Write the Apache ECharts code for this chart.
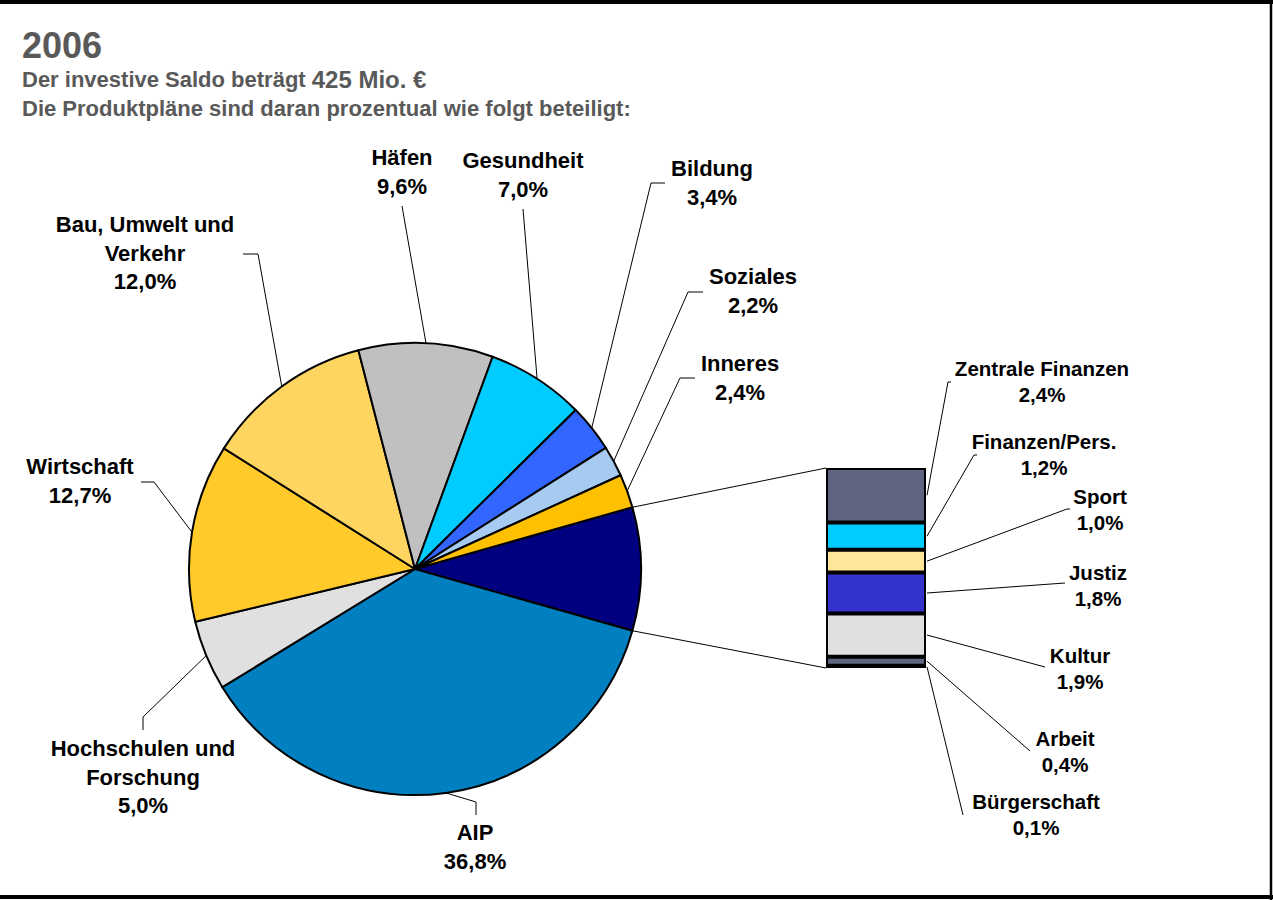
<!DOCTYPE html>
<html>
<head>
<meta charset="utf-8">
<script src="https://cdn.jsdelivr.net/npm/echarts@6/dist/echarts.min.js"></script>
<style>html,body{margin:0;padding:0;background:#fff}#c{width:1273px;height:900px}</style>
</head>
<body>
<div id="c"></div>
<script>
// ---------- DATA ----------
const titleText = '2006';
const subtitleLine1 = 'Der investive Saldo beträgt ';
const subtitleAmount = '425 Mio. €';
const subtitleLine2 = 'Die Produktpläne sind daran prozentual wie folgt beteiligt:';

// pie slices (clockwise after the "rest" slice, which is exploded into the bar)
const pieNames = ['AIP', 'Hochschulen und\nForschung', 'Wirtschaft', 'Bau, Umwelt und\nVerkehr', 'Häfen', 'Gesundheit', 'Bildung', 'Soziales', 'Inneres'];
const pieValues = [36.8, 5.0, 12.7, 12.0, 9.6, 7.0, 3.4, 2.2, 2.4];
const restName = 'Übrige';

// bar of pie (bottom to top)
const barNames = ['Bürgerschaft', 'Arbeit', 'Kultur', 'Justiz', 'Sport', 'Finanzen/Pers.', 'Zentrale Finanzen'];
const barValues = [0.1, 0.4, 1.9, 1.8, 1.0, 1.2, 2.4];

// ---------- STYLE / LAYOUT ----------
const restColor = '#000080';
const pieColors = ['#0080C0', '#E0E0E0', '#FFCA2A', '#FFD561', '#C0C0C0', '#00CCFF', '#3366FF', '#A6CAF0', '#FFC000'];
const barColors = ['#FFC000', '#5F6480', '#E0E0E0', '#3333CC', '#FFE699', '#00CCFF', '#5F6480'];

const FONT = '"Liberation Sans", Arial, Helvetica, sans-serif';
const PIE_C = [415, 569];
const PIE_R = 226;
const GRID = { left: 826, top: 468, width: 100, height: 200 };

// label block centres and leader line bends (label side), same order as pieNames
const pieLabelPos = [
  { x: 475, y: 847, bend: [[476, 802], [476, 815]] },
  { x: 143, y: 777, bend: [[143, 717], [143, 730]] },
  { x: 80, y: 481, bend: [[154, 482], [141, 482]] },
  { x: 145, y: 253, bend: [[258, 254], [243, 254]] },
  { x: 402, y: 172, bend: [[402, 206], [402, 206]] },
  { x: 523, y: 175, bend: [[523, 209], [523, 209]] },
  { x: 712, y: 183, bend: [[651, 183], [665, 183]] },
  { x: 753, y: 291, bend: [[688, 292], [703, 292]] },
  { x: 740, y: 378, bend: [[680, 378], [695, 378]] }
];
// same order as barNames
const barLabelPos = [
  { x: 1036, y: 814, bend: [[963, 815], [963, 815]] },
  { x: 1065, y: 751, bend: [[1030, 751], [1030, 751]] },
  { x: 1080, y: 668, bend: [[1045, 667], [1045, 667]] },
  { x: 1098, y: 585, bend: [[1065, 583], [1065, 583]] },
  { x: 1100, y: 509, bend: [[1067, 509], [1070, 509]] },
  { x: 1044, y: 454, bend: [[974, 455], [977, 455]] },
  { x: 1042, y: 381, bend: [[948, 382], [951, 382]] }
];

function pct(v) { return v.toFixed(1).replace('.', ',') + '%'; }

// ---------- GEOMETRY FROM DATA ----------
const restValue = barValues.reduce((a, b) => a + b, 0);
const allPie = [restValue].concat(pieValues);
const pieTotal = allPie.reduce((a, b) => a + b, 0);
const startAngle = restValue / pieTotal * 360 / 2;
function angleAt(cum) { return startAngle - cum / pieTotal * 360; }
function edgePt(deg) {
  const r = deg * Math.PI / 180;
  return [PIE_C[0] + PIE_R * Math.cos(r), PIE_C[1] - PIE_R * Math.sin(r)];
}
function midEdge(i) { // i index into allPie
  let cum = 0;
  for (let k = 0; k < i; k++) cum += allPie[k];
  return edgePt(angleAt(cum + allPie[i] / 2));
}

const chart = echarts.init(document.getElementById('c'), null, { renderer: 'svg', width: 1273, height: 900 });

const pieData = [{
  name: restName, value: restValue,
  itemStyle: { color: restColor },
  label: { show: false }, labelLine: { show: false }
}].concat(pieNames.map((n, i) => ({
  name: n, value: pieValues[i], itemStyle: { color: pieColors[i] }
})));

const barSeries = barNames.map((n, i) => ({
  type: 'bar',
  name: n,
  stack: 'rest',
  barWidth: '100%',
  data: [barValues[i]],
  itemStyle: { color: barColors[i], borderColor: '#000', borderWidth: 2 },
  label: {
    show: true,
    position: 'right',
    formatter: () => n + '\n' + pct(barValues[i]),
    fontFamily: FONT, fontWeight: 'bold', fontSize: 20.5, lineHeight: 26, color: '#000', align: 'center'
  },
  labelLayout: () => ({ x: barLabelPos[i].x, y: barLabelPos[i].y, align: 'center', verticalAlign: 'middle' }),
  emphasis: { disabled: true }
}));

chart.setOption({
  animation: false,
  backgroundColor: '#fff',
  title: {
    left: 17, top: 20,
    itemGap: 0,
    text: titleText,
    textStyle: { fontFamily: FONT, fontSize: 36, fontWeight: 'bold', color: '#595959', lineHeight: 40 },
    subtext: subtitleLine1 + '{b|' + subtitleAmount + '}\n' + subtitleLine2,
    subtextStyle: {
      fontFamily: FONT, fontSize: 22, fontWeight: 'bold', color: '#595959', lineHeight: 29,
      rich: { b: { fontFamily: FONT, fontSize: 24, fontWeight: 'bold', color: '#595959', lineHeight: 29 } }
    }
  },
  grid: { left: GRID.left, top: GRID.top, width: GRID.width, height: GRID.height },
  xAxis: { type: 'category', data: [''], show: false },
  yAxis: { type: 'value', min: 0, max: restValue, show: false },
  series: [{
    type: 'pie',
    center: PIE_C,
    radius: PIE_R,
    startAngle: startAngle,
    clockwise: true,
    avoidLabelOverlap: false,
    emphasis: { disabled: true },
    itemStyle: { borderColor: '#000', borderWidth: 2 },
    label: {
      show: true,
      position: 'outside',
      formatter: p => p.name + '\n' + pct(p.value),
      fontFamily: FONT, fontWeight: 'bold', fontSize: 22, lineHeight: 28.5, color: '#000', align: 'center'
    },
    labelLine: { show: true, lineStyle: { color: '#000', width: 1 } },
    labelLayout: function (p) {
      const i = p.dataIndex;
      if (i === 0) return {};
      const L = pieLabelPos[i - 1];
      const start = midEdge(i);
      return {
        x: L.x, y: L.y, align: 'center', verticalAlign: 'middle',
        labelLinePoints: [start, L.bend[0], L.bend[1]]
      };
    },
    data: pieData
  }].concat(barSeries)
});

// ---------- connector + bar leader lines ----------
const xc = chart.convertToPixel({ xAxisIndex: 0 }, 0);
const barLeft = xc - GRID.width / 2;
const barRight = xc + GRID.width / 2;
const yTop = chart.convertToPixel({ yAxisIndex: 0 }, restValue);
const yBot = chart.convertToPixel({ yAxisIndex: 0 }, 0);
const pStart = edgePt(startAngle);
const pEnd = edgePt(angleAt(restValue));

const elements = [
  // black backing so stacked segment seams read as solid black separators
  { type: 'rect', z: 1, shape: { x: barLeft, y: yTop, width: barRight - barLeft, height: yBot - yTop }, style: { fill: '#000' }, silent: true },
  { type: 'polyline', shape: { points: [pStart, [barLeft, yTop]] }, style: { stroke: '#000', lineWidth: 1, fill: null }, silent: true },
  { type: 'polyline', shape: { points: [pEnd, [barLeft, yBot]] }, style: { stroke: '#000', lineWidth: 1, fill: null }, silent: true }
];
let cum = 0;
barValues.forEach((v, i) => {
  const ym = chart.convertToPixel({ yAxisIndex: 0 }, cum + v / 2);
  cum += v;
  const b = barLabelPos[i].bend;
  elements.push({ type: 'polyline', shape: { points: [[barRight + 1, ym], b[0], b[1]] }, style: { stroke: '#000', lineWidth: 1, fill: null }, silent: true });
});
// frame
elements.push({ type: 'line', shape: { x1: 0, y1: 2, x2: 1273, y2: 2 }, style: { stroke: '#000', lineWidth: 4 }, silent: true });
elements.push({ type: 'line', shape: { x1: 0, y1: 897, x2: 1273, y2: 897 }, style: { stroke: '#000', lineWidth: 4 }, silent: true });
elements.push({ type: 'line', shape: { x1: 1271, y1: 0, x2: 1271, y2: 900 }, style: { stroke: '#000', lineWidth: 2.5 }, silent: true });

chart.setOption({ graphic: { elements: elements } });
</script>
</body>
</html>
